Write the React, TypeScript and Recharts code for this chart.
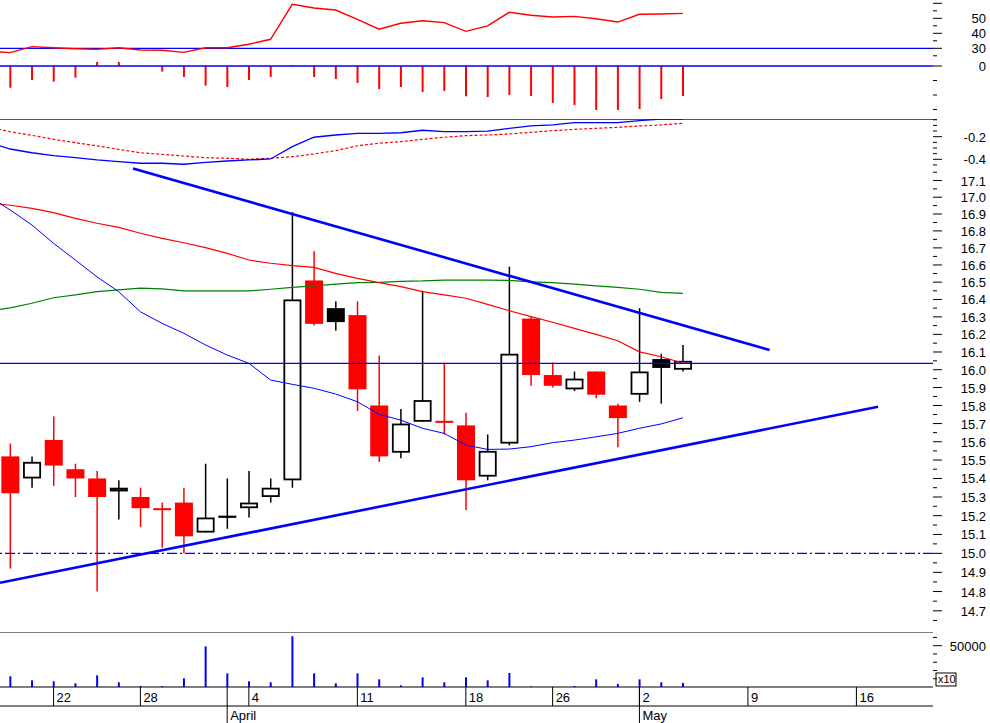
import React from 'react'
import { ComposedChart, Line, Bar, XAxis, YAxis, ReferenceLine } from 'recharts'

const FONT = '"Liberation Sans", Arial, Helvetica, sans-serif'
const WIDTH = 990
const AXIS_W = 57
const X_DOMAIN: [number, number] = [-0.47, 42.53]

// candles, slot 0..31
const OPEN = [15.52, 15.40, 15.61, 15.45, 15.40, 15.33, 15.30, 15.24, 15.27, 15.11, 15.19, 15.24, 15.30, 15.39, 16.51, 16.35, 16.31, 15.80, 15.54, 15.71, 15.715, 15.69, 15.41, 15.59, 16.29, 15.97, 15.89, 15.99, 15.80, 15.86, 16.06, 16.00]
const HIGH = [15.59, 15.52, 15.74, 15.48, 15.44, 15.39, 15.35, 15.27, 15.35, 15.48, 15.40, 15.44, 15.40, 16.91, 16.68, 16.39, 16.39, 16.08, 15.78, 16.45, 16.04, 15.76, 15.64, 16.59, 16.30, 16.04, 15.99, 15.99, 15.81, 16.35, 16.09, 16.14]
const LOW = [14.92, 15.35, 15.36, 15.30, 14.80, 15.18, 15.14, 15.03, 15.00, 15.11, 15.13, 15.19, 15.27, 15.35, 16.25, 16.22, 15.77, 15.49, 15.51, 15.71, 15.64, 15.23, 15.39, 15.58, 15.91, 15.90, 15.88, 15.84, 15.57, 15.82, 15.81, 15.99]
const CLOSE = [15.32, 15.49, 15.47, 15.40, 15.30, 15.35, 15.24, 15.23, 15.09, 15.19, 15.20, 15.27, 15.35, 16.40, 16.26, 16.27, 15.89, 15.52, 15.70, 15.83, 15.71, 15.39, 15.55, 16.09, 15.97, 15.91, 15.95, 15.86, 15.73, 15.99, 16.01, 16.05]
const VOLUME = [13000, 8100, 6900, 4500, 14100, 5700, 1200, 1200, 10500, 49200, 16500, 6900, 5700, 61400, 16500, 4500, 16500, 9300, 2100, 11700, 5700, 11700, 8100, 16900, 800, 300, 1200, 9300, 3600, 9300, 5700, 5000]
const HIST = [-0.150, -0.097, -0.108, -0.081, 0.028, 0.028, -0.002, -0.039, -0.076, -0.136, -0.145, -0.097, -0.076, 0.007, -0.076, -0.090, -0.117, -0.159, -0.145, -0.179, -0.172, -0.209, -0.214, -0.200, -0.207, -0.255, -0.269, -0.303, -0.303, -0.297, -0.228, -0.207]

// indicators, slot -1..31 (first value sits just left of the plot)
const MA_RED = [16.968, 16.952, 16.934, 16.908, 16.874, 16.845, 16.821, 16.786, 16.756, 16.730, 16.701, 16.668, 16.629, 16.610, 16.596, 16.586, 16.551, 16.522, 16.497, 16.474, 16.445, 16.426, 16.407, 16.372, 16.335, 16.301, 16.269, 16.234, 16.200, 16.164, 16.101, 16.073, 16.038]
const MA_GREEN = [16.333, 16.352, 16.378, 16.410, 16.426, 16.445, 16.455, 16.465, 16.461, 16.449, 16.449, 16.449, 16.449, 16.459, 16.470, 16.479, 16.489, 16.497, 16.499, 16.505, 16.507, 16.512, 16.512, 16.512, 16.510, 16.502, 16.497, 16.489, 16.479, 16.470, 16.459, 16.441, 16.435]
const MA_BLUE = [17.007, 16.924, 16.835, 16.727, 16.629, 16.531, 16.445, 16.329, 16.263, 16.206, 16.140, 16.083, 16.036, 15.942, 15.918, 15.896, 15.864, 15.821, 15.751, 15.719, 15.674, 15.646, 15.582, 15.558, 15.560, 15.573, 15.595, 15.609, 15.627, 15.646, 15.674, 15.698, 15.732]
const ADX = [28.0, 27.1, 31.1, 30.4, 29.7, 29.3, 30.4, 28.9, 28.7, 27.3, 30.4, 30.4, 32.7, 36.0, 59.3, 56.9, 55.5, 49.3, 42.7, 46.7, 48.4, 47.1, 41.3, 44.9, 54.0, 52.0, 50.9, 51.3, 49.7, 47.5, 52.7, 52.9, 53.3]
const MACD = [-0.251, -0.309, -0.342, -0.368, -0.386, -0.406, -0.421, -0.435, -0.435, -0.444, -0.427, -0.415, -0.406, -0.397, -0.288, -0.205, -0.185, -0.170, -0.170, -0.165, -0.143, -0.156, -0.156, -0.150, -0.126, -0.105, -0.096, -0.076, -0.076, -0.076, -0.058, -0.045, -0.044]
const SIGNAL = [-0.114, -0.156, -0.188, -0.223, -0.253, -0.282, -0.312, -0.342, -0.356, -0.371, -0.386, -0.391, -0.400, -0.391, -0.377, -0.353, -0.324, -0.280, -0.258, -0.244, -0.223, -0.205, -0.191, -0.185, -0.176, -0.161, -0.147, -0.135, -0.126, -0.117, -0.105, -0.096, -0.081]

// trend lines [slot, price]
const TREND_UPPER = [[5.66, 17.172], [35.0, 16.111]]
const TREND_LOWER = [[-0.47, 14.846], [40.0, 15.793]]
const LAST_LINE = 16.036
const SUPPORT = 15.0

// axes
const DAY_TICKS = [2, 6, 11, 16, 21, 25, 29, 34, 39]
const DAY_LABELS = ['22', '28', '4', '11', '18', '26', '2', '9', '16']
const MONTH_TICKS = [10, 29]
const MONTH_LABELS = ['April', 'May']
const PRICE_LABELS = ['17.1', '17.0', '16.9', '16.8', '16.7', '16.6', '16.5', '16.4', '16.3', '16.2', '16.1', '16.0', '15.9', '15.8', '15.7', '15.6', '15.5', '15.4', '15.3', '15.2', '15.1', '15.0', '14.9', '14.8', '14.7']
const ADX_TICKS = [60, 55, 50, 45, 40, 35, 30, 25]
const ADX_LABELS = ['50', '40', '30']
const HIST_TICKS = [0, -0.1, -0.2, -0.3]
const MACD_TICKS = [-0.05, -0.1, -0.15, -0.2, -0.25, -0.3, -0.35, -0.4, -0.45]
const MACD_LABELS = ['-0.2', '-0.4']
const VOL_TICKS = [0, 10000, 20000, 30000, 40000, 50000, 60000]
const VOL_LABELS = ['50000']

const ADX_DOMAIN = [24.2, 62.2]
const HIST_DOMAIN = [-0.352, 0.062]
const MACD_DOMAIN = [-0.539, -0.0434]
const PRICE_DOMAIN = [14.591, 17.1936]
const VOL_DOMAIN = [0, 66600]

const near = (a: number, b: number) => Math.abs(a - b) < 1e-6

const priceTicks = (() => {
  const major = PRICE_LABELS.map(Number)
  const minor = major.map(v => +(v - 0.05).toFixed(2)).concat([17.15])
  return [...major, ...minor]
})()

const indicatorRows = MA_RED.map((_, k) => ({
  i: k - 1,
  maRed: MA_RED[k],
  maGreen: MA_GREEN[k],
  maBlue: MA_BLUE[k],
  adx: ADX[k],
  macd: MACD[k],
  signal: SIGNAL[k],
}))

const rows = indicatorRows.map(r => {
  const k = r.i
  if (k < 0) return r
  return {
    ...r,
    open: OPEN[k],
    high: HIGH[k],
    low: LOW[k],
    close: CLOSE[k],
    range: [LOW[k], HIGH[k]],
    red: CLOSE[k] < (k > 0 ? CLOSE[k - 1] : OPEN[k]),
    hist: HIST[k],
    vol: VOLUME[k],
  }
})

function Candle(props: any) {
  const { x, y, width, height, payload } = props
  if (!payload || payload.high == null || x == null) return null
  const { open, close, high, low, red } = payload
  const top = Math.min(y, y + height)
  const h = Math.abs(height)
  const span = Math.log(high) - Math.log(low)
  const yOf = (p: number) => top + (span > 0 ? (h * (Math.log(high) - Math.log(p))) / span : 0)
  const cx = x + width / 2
  const bTop = yOf(Math.max(open, close))
  let bBot = yOf(Math.min(open, close))
  if (bBot - bTop < 2) bBot = bTop + 2
  const color = red ? '#ff0000' : '#000000'
  const filled = close < open
  return (
    <g>
      <line x1={cx} x2={cx} y1={top} y2={top + h} stroke={color} strokeWidth={1.5} />
      {filled ? (
        <rect x={x} y={bTop} width={width} height={bBot - bTop} fill={color} />
      ) : (
        <rect x={x + 0.9} y={bTop + 0.9} width={width - 1.8} height={Math.max(bBot - bTop - 1.8, 0.4)} fill="#ffffff" stroke="#000000" strokeWidth={1.8} />
      )}
    </g>
  )
}

function makeRightTick(labelOf: (v: number) => string | null, longOf: (v: number) => boolean) {
  return (props: any) => {
    const { x, y, payload } = props
    const v = payload.value
    const label = labelOf(v)
    return (
      <g>
        <line x1={x} x2={x + (longOf(v) ? 9 : 4)} y1={y} y2={y} stroke="#000" strokeWidth={1} />
        {label && (
          <text x={x + 53} y={y + 5} textAnchor="end" fontSize={13} fontFamily={FONT} fill="#000">
            {label}
          </text>
        )}
      </g>
    )
  }
}

const adxTick = makeRightTick(
  v => (ADX_LABELS.includes(String(v)) ? String(v) : null),
  v => v % 10 === 0
)
const histTick = makeRightTick(v => (near(v, 0) ? '0' : null), v => near(v, 0))
const macdTick = makeRightTick(
  v => (near(v, -0.2) ? MACD_LABELS[0] : near(v, -0.4) ? MACD_LABELS[1] : null),
  v => near(v, -0.2) || near(v, -0.4)
)
const priceTick = makeRightTick(
  v => PRICE_LABELS.find(l => near(Number(l), v)) || null,
  v => PRICE_LABELS.some(l => near(Number(l), v))
)

function VolTick(props: any) {
  const { x, y, payload } = props
  const v = payload.value
  if (v === 0) {
    return (
      <g>
        <rect x={x + 3} y={y - 14} width={20} height={13} fill="none" stroke="#000" strokeWidth={1} />
        <text x={x + 5} y={y - 4} fontSize={11} fontFamily={FONT} fill="#000">x10</text>
      </g>
    )
  }
  const label = VOL_LABELS.includes(String(v)) ? String(v) : null
  return (
    <g>
      <line x1={x} x2={x + (label ? 9 : 4)} y1={y} y2={y} stroke="#000" />
      {label && (
        <text x={x + 53} y={y + 5} textAnchor="end" fontSize={13} fontFamily={FONT} fill="#000">
          {label}
        </text>
      )}
    </g>
  )
}

function DayTick(props: any) {
  const { x, y, payload } = props
  const label = DAY_LABELS[DAY_TICKS.indexOf(payload.value)]
  return (
    <g>
      <line x1={x} x2={x} y1={y} y2={y + 19} stroke="#000" />
      <text x={x + 3} y={y + 14.5} fontSize={13} fontFamily={FONT} fill="#000">{label}</text>
    </g>
  )
}

function MonthTick(props: any) {
  const { x, y, payload } = props
  const label = MONTH_LABELS[MONTH_TICKS.indexOf(payload.value)]
  return (
    <g>
      <line x1={x} x2={x} y1={y - 19} y2={y + 17} stroke="#000" />
      <text x={x + 3} y={y + 14} fontSize={13} fontFamily={FONT} fill="#000">{label}</text>
    </g>
  )
}

const MARGIN = { top: 0, right: 0, bottom: 0, left: 0 }

const hiddenX = (
  <XAxis type="number" dataKey="i" domain={X_DOMAIN} allowDataOverflow hide height={0} />
)

function Panel({ top, children }: { top: number; children: React.ReactNode }) {
  return <div style={{ position: 'absolute', left: 0, top, pointerEvents: 'none' }}>{children}</div>
}

function rightAxis(domain: number[], ticks: number[], tick: any, scale?: 'log') {
  return (
    <YAxis
      orientation="right"
      width={AXIS_W}
      domain={domain}
      allowDataOverflow
      ticks={ticks}
      interval={0}
      tick={tick}
      tickSize={0}
      tickMargin={0}
      tickLine={false}
      axisLine={false}
      scale={scale || 'auto'}
      type="number"
    />
  )
}

export default function App() {
  return (
    <div style={{ position: 'absolute', left: 0, top: 0, width: WIDTH, height: 723, background: '#ffffff', overflow: 'hidden' }}>
      {/* vertical date grid */}
      <Panel top={0}>
        <ComposedChart width={WIDTH} height={687} data={rows} margin={MARGIN}>
          {hiddenX}
          <YAxis orientation="right" width={AXIS_W} domain={[0, 1]} tick={false} tickLine={false} axisLine={false} />
          {DAY_TICKS.map(t => (
            <ReferenceLine key={t} x={t} stroke="#c0c0c0" strokeDasharray="4 3" />
          ))}
        </ComposedChart>
      </Panel>

      {/* ADX */}
      <Panel top={0}>
        <ComposedChart width={WIDTH} height={57} data={rows} margin={MARGIN}>
          {hiddenX}
          {rightAxis(ADX_DOMAIN, ADX_TICKS, adxTick)}
          <ReferenceLine y={30} stroke="#0000ff" strokeWidth={1.3} />
          <Line dataKey="adx" stroke="#ff0000" strokeWidth={1.4} dot={false} activeDot={false} isAnimationActive={false} />
        </ComposedChart>
      </Panel>

      {/* histogram */}
      <Panel top={57}>
        <ComposedChart width={WIDTH} height={60} data={rows} margin={MARGIN}>
          {hiddenX}
          {rightAxis(HIST_DOMAIN, HIST_TICKS, histTick)}
          <Bar dataKey="hist" fill="#ff0000" barSize={2} isAnimationActive={false} />
          <ReferenceLine y={0} stroke="#0000ff" strokeWidth={1.3} />
        </ComposedChart>
      </Panel>

      {/* MACD */}
      <Panel top={119}>
        <ComposedChart width={WIDTH} height={56} data={rows} margin={MARGIN}>
          {hiddenX}
          {rightAxis(MACD_DOMAIN, [MACD_DOMAIN[1], ...MACD_TICKS], macdTick)}
          <ReferenceLine y={MACD_DOMAIN[1]} stroke="#0000ff" strokeWidth={1.3} />
          <Line dataKey="signal" stroke="#ff0000" strokeWidth={1.2} strokeDasharray="3 2" dot={false} activeDot={false} isAnimationActive={false} />
          <Line dataKey="macd" stroke="#0000ff" strokeWidth={1.3} dot={false} activeDot={false} isAnimationActive={false} />
        </ComposedChart>
      </Panel>

      {/* price */}
      <Panel top={165}>
        <ComposedChart width={WIDTH} height={467} data={rows} margin={MARGIN}>
          {hiddenX}
          {rightAxis(PRICE_DOMAIN, priceTicks, priceTick, 'log')}
          <Bar dataKey="range" barSize={18} shape={<Candle />} isAnimationActive={false} />
          <Line dataKey="maGreen" stroke="#008000" strokeWidth={1.2} dot={false} activeDot={false} isAnimationActive={false} />
          <Line dataKey="maRed" stroke="#ff0000" strokeWidth={1.2} dot={false} activeDot={false} isAnimationActive={false} />
          <Line dataKey="maBlue" stroke="#0000ff" strokeWidth={1} dot={false} activeDot={false} isAnimationActive={false} />
          <ReferenceLine y={LAST_LINE} stroke="#0000ff" strokeWidth={1.2} />
          <ReferenceLine y={SUPPORT} stroke="#0000ff" strokeWidth={1.2} strokeDasharray="10 3 2 3" />
          <ReferenceLine
            segment={TREND_UPPER.map(([x, y]) => ({ x, y }))}
            stroke="#0000ff"
            strokeWidth={2.6}
          />
          <ReferenceLine
            segment={TREND_LOWER.map(([x, y]) => ({ x, y }))}
            stroke="#0000ff"
            strokeWidth={2.6}
          />
        </ComposedChart>
      </Panel>

      {/* volume + date axis */}
      <Panel top={632}>
        <ComposedChart width={WIDTH} height={91} data={rows} margin={MARGIN}>
          <XAxis
            type="number"
            dataKey="i"
            domain={X_DOMAIN}
            allowDataOverflow
            ticks={DAY_TICKS}
            interval={0}
            tick={<DayTick />}
            tickSize={0}
            tickMargin={0}
            tickLine={false}
            axisLine={{ stroke: '#000' }}
            height={19}
          />
          <XAxis
            xAxisId="month"
            type="number"
            dataKey="i"
            domain={X_DOMAIN}
            allowDataOverflow
            ticks={MONTH_TICKS}
            interval={0}
            tick={<MonthTick />}
            tickSize={0}
            tickMargin={0}
            tickLine={false}
            axisLine={{ stroke: '#000' }}
            height={17}
          />
          {rightAxis(VOL_DOMAIN, VOL_TICKS, <VolTick />)}
          <Bar dataKey="vol" fill="#0000ff" barSize={2} isAnimationActive={false} />
          <ReferenceLine y={VOL_DOMAIN[1]} stroke="#000" strokeWidth={1.2} />
        </ComposedChart>
      </Panel>
    </div>
  )
}
